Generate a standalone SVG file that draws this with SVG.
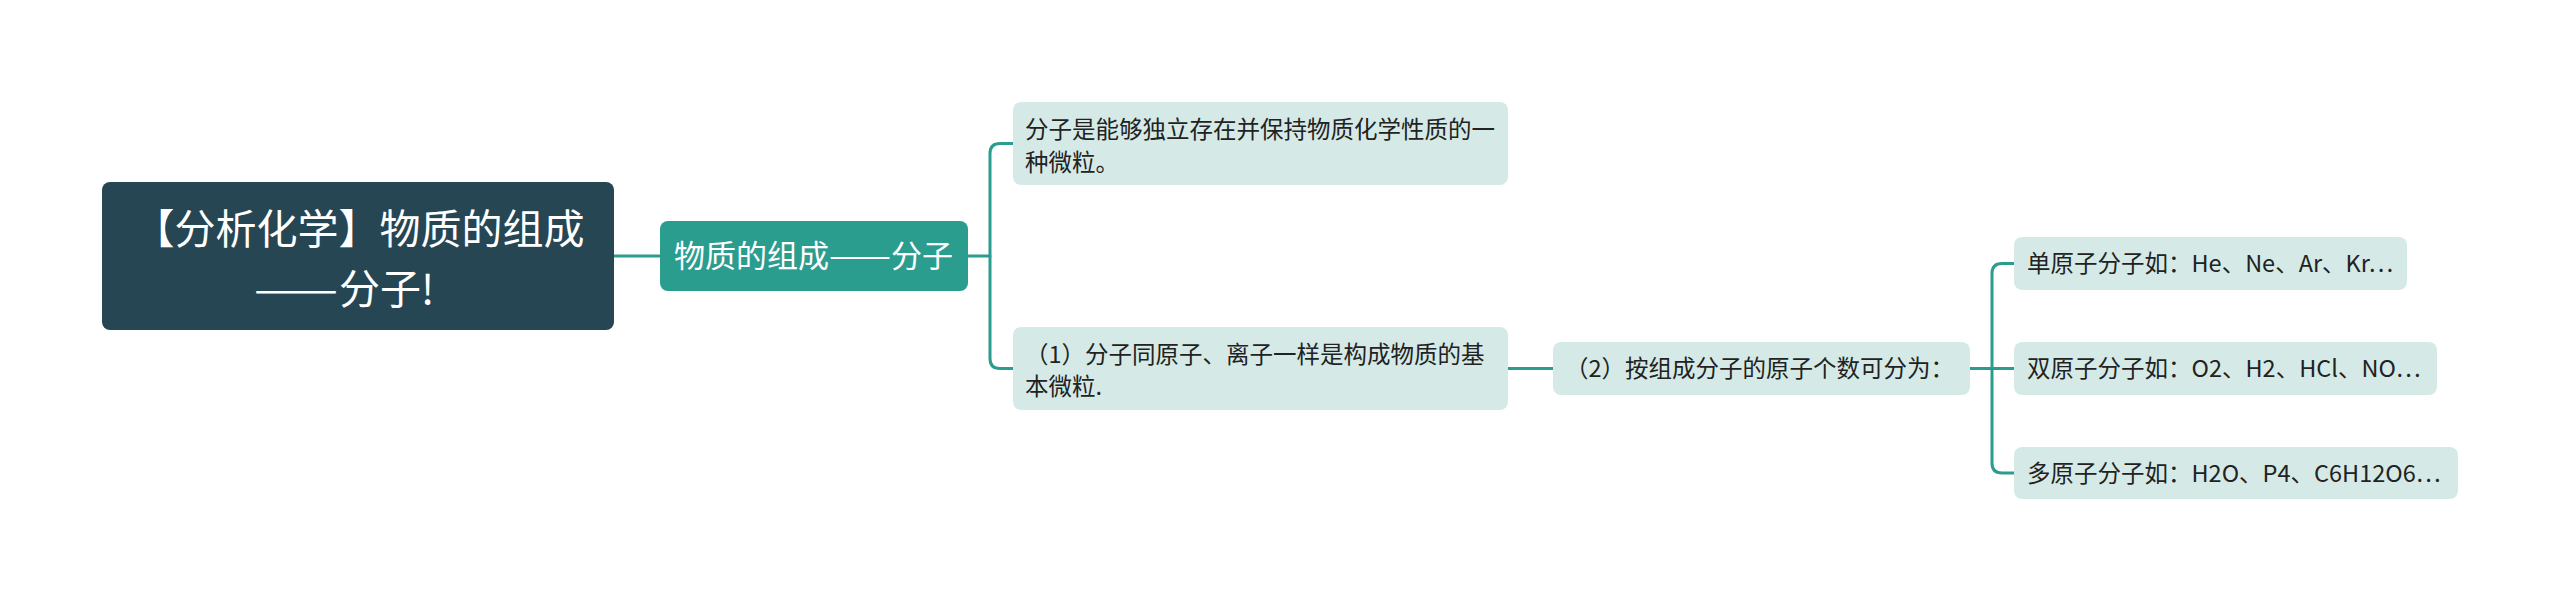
<svg xmlns="http://www.w3.org/2000/svg" width="2560" height="602" viewBox="0 0 2560 602">
<style>
text{font-family:"Noto Sans CJK SC","Noto Sans",sans-serif;}
.root{fill:#264653;}
.sec{fill:#2a9d8f;}
.leaf{fill:#d5eae7;}
.wt{fill:#ffffff;}
.dt{fill:#222222;font-size:23.5px;}
.conn{fill:none;stroke:#2a9d8f;stroke-width:3;stroke-linecap:round;}
</style>
<rect width="2560" height="602" fill="#ffffff"/>
<g id="connectors">
<path class="conn" d="M614,256 H660"/>
<path class="conn" d="M968,256 H990"/>
<path class="conn" d="M1013,143.5 H1000 Q990,143.5 990,153.5 V358.5 Q990,368.5 1000,368.5 H1013"/>
<path class="conn" d="M1508,368.5 H1553"/>
<path class="conn" d="M1970,368.5 H2014"/>
<path class="conn" d="M2014,263.5 H2002 Q1992,263.5 1992,273.5 V463 Q1992,473 2002,473 H2014"/>
</g>
<g id="root">
<rect class="root" x="102" y="182" width="512" height="148" rx="8"/>
<text class="wt" x="359" y="244" font-size="41" text-anchor="middle">【分析化学】物质的组成</text>
<text class="wt" x="254" y="304" font-size="41" textLength="84" lengthAdjust="spacingAndGlyphs">——</text>
<text class="wt" x="339" y="304" font-size="41">分子!</text>
</g>
<g id="n-sec">
<rect class="sec" x="660" y="221" width="308" height="70" rx="8"/>
<text class="wt" x="674" y="267" font-size="31">物质的组成</text>
<text class="wt" x="829" y="267" font-size="31" textLength="62" lengthAdjust="spacingAndGlyphs">——</text>
<text class="wt" x="891" y="267" font-size="31">分子</text>
</g>
<g id="n-def">
<rect class="leaf" x="1013" y="102" width="495" height="83" rx="8"/>
<text class="dt" x="1025" y="138">分子是能够独立存在并保持物质化学性质的一</text>
<text class="dt" x="1025" y="171">种微粒。</text>
</g>
<g id="n-1">
<rect class="leaf" x="1013" y="327" width="495" height="83" rx="8"/>
<text class="dt" x="1025" y="363">（1）分子同原子、离子一样是构成物质的基</text>
<text class="dt" x="1025" y="395">本微粒.</text>
</g>
<g id="n-2">
<rect class="leaf" x="1553" y="342" width="417" height="53" rx="8"/>
<text class="dt" x="1565" y="377">（2）按组成分子的原子个数可分为：</text>
</g>
<g id="g-1">
<rect class="leaf" x="2014" y="237" width="393" height="53" rx="8"/>
<text class="dt" x="2027" y="272">单原子分子如：He、Ne、Ar、Kr…</text>
</g>
<g id="g-2">
<rect class="leaf" x="2014" y="342" width="423" height="53" rx="8"/>
<text class="dt" x="2027" y="377">双原子分子如：O2、H2、HCl、NO…</text>
</g>
<g id="g-3">
<rect class="leaf" x="2014" y="447" width="444" height="52" rx="8"/>
<text class="dt" x="2027" y="482">多原子分子如：H2O、P4、C6H12O6…</text>
</g>
</svg>
